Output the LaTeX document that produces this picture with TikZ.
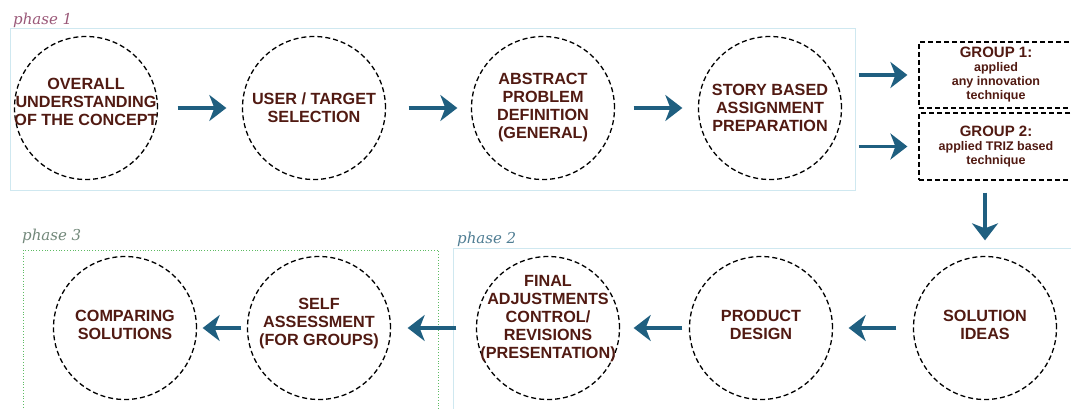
\documentclass[tikz,border=0pt]{standalone}
\usepackage{fontspec}
\setsansfont{Liberation Sans}
\newfontfamily\phasefont{DejaVu Serif}
\usetikzlibrary{arrows.meta}

\definecolor{textbrown}{HTML}{511A12}
\definecolor{arrowblue}{HTML}{1F5F80}
\definecolor{phaseone}{HTML}{9A5878}
\definecolor{phasetwo}{HTML}{4F7D93}
\definecolor{phasethree}{HTML}{72887A}
\definecolor{boxblue}{HTML}{CFE8F0}
\definecolor{boxgreen}{HTML}{5DBB63}

\begin{document}
\begin{tikzpicture}[x=1pt,y=-1pt,
	stage/.style={circle, draw=black, line width=1.3pt, dash pattern=on 5pt off 3pt, minimum size=143pt, inner sep=0pt},
	stagetext/.style={text=textbrown, align=center, font=\sffamily\bfseries\fontsize{16.2}{18}\selectfont},
	groupbox/.style={rectangle, draw=black, line width=1.2pt, dash pattern=on 5pt off 3pt, minimum width=154pt, inner sep=0pt, align=center, text=textbrown, font=\sffamily\bfseries\fontsize{12.5}{14}\selectfont},
	flow/.style={draw=arrowblue, line width=3.5pt, -{Stealth[length=17pt,width=26pt,inset=5pt]}},
	phaselabel/.style={anchor=base west, inner sep=0pt, font=\phasefont\itshape\fontsize{15}{18}\selectfont}]

	\useasboundingbox (0,0) rectangle (1071,409);

	% Phase frames
	\draw[boxblue, line width=0.8pt] (10,28) rectangle (855,190);
	\draw[boxblue, line width=0.8pt] (453,248) rectangle (1090,430);
	\draw[boxgreen, line width=0.8pt, dotted] (23,250) rectangle (438,430);

	% Phase labels
	\node[phaselabel, text=phaseone] (p1) at (13,25) {phase 1};
	\node[phaselabel, text=phasetwo] (p2) at (457,243) {phase 2};
	\node[phaselabel, text=phasethree] (p3) at (22,240) {phase 3};

	% Phase 1 stages
	\node[stage] (overall) at (86,108) {};
	\node[stagetext] at ([yshift=6pt]overall) {OVERALL\\UNDERSTANDING\\OF THE CONCEPT};
	\node[stage] (user) at (314,108) {};
	\node[stagetext] at (user) {USER / TARGET\\SELECTION};
	\node[stage] (abstract) at (543,108) {};
	\node[stagetext] at (abstract) {ABSTRACT\\PROBLEM\\DEFINITION\\(GENERAL)};
	\node[stage] (story) at (770,108) {};
	\node[stagetext] at (story) {STORY BASED\\ASSIGNMENT\\PREPARATION};

	% Groups
	\node[groupbox, minimum height=66pt] (group1) at (996,75)
		{{\fontsize{15}{16}\selectfont GROUP 1:}\\applied\\any innovation\\technique};
	\node[groupbox, minimum height=67pt] (group2) at (996,146.5)
		{{\fontsize{15}{16}\selectfont GROUP 2:}\\applied TRIZ based\\technique};

	% Phase 2 stages
	\node[stage] (solution) at (985,328) {};
	\node[stagetext] at ([yshift=3pt]solution) {SOLUTION\\IDEAS};
	\node[stage] (product) at (761,328) {};
	\node[stagetext] at ([yshift=3pt]product) {PRODUCT\\DESIGN};
	\node[stage] (final) at (548,328) {};
	\node[stagetext] at ([yshift=9pt]final) {FINAL\\ADJUSTMENTS\\CONTROL/\\REVISIONS\\(PRESENTATION)};

	% Phase 3 stages
	\node[stage] (selfassess) at (319,328) {};
	\node[stagetext] at ([yshift=4pt]selfassess) {SELF\\ASSESSMENT\\(FOR GROUPS)};
	\node[stage] (comparing) at (125,328) {};
	\node[stagetext] at ([yshift=3pt]comparing) {COMPARING\\SOLUTIONS};

	% Arrows
	\draw[flow, shorten <=19.5pt, shorten >=15.5pt] (overall) -- (user);
	\draw[flow, shorten <=22.5pt, shorten >=13.5pt] (user) -- (abstract);
	\draw[flow, shorten <=18.5pt, shorten >=15.5pt] (abstract) -- (story);
	\draw[flow, shorten <=16.5pt, shorten >=11pt] (story.east |- group1.west) -- (group1.west);
	\draw[flow, shorten <=16.5pt, shorten >=11pt] (story.east |- group2.west) -- (group2.west);
	\draw[flow, shorten <=12pt, shorten >=15.5pt] (solution |- group2.south) -- (solution.north);
	\draw[flow, shorten <=16.5pt, shorten >=15.5pt] (solution) -- (product);
	\draw[flow, shorten <=6.5pt, shorten >=13.5pt] (product) -- (final);
	\draw[flow, shorten <=19.5pt, shorten >=16.5pt] (final) -- (selfassess);
	\draw[flow, shorten <=5.5pt, shorten >=5.5pt] (selfassess) -- (comparing);

\end{tikzpicture}
\end{document}
